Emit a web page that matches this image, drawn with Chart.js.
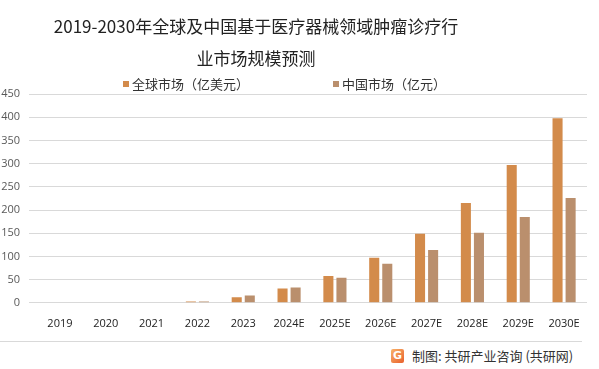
<!DOCTYPE html>
<html>
<head>
<meta charset="utf-8">
<script src="https://cdn.jsdelivr.net/npm/chart.js@4.4.1/dist/chart.umd.min.js"></script>
<style>
  * { box-sizing: border-box; }
  body { margin: 0; background: #ffffff; font-family: "Noto Sans CJK SC", sans-serif; }
  .wrap { position: relative; width: 599px; height: 369px; }
  .chart-box { position: absolute; left: 0; top: 0; width: 599px; height: 336px; }
  .title { position: absolute; left: 0; top: 10px; width: 512px; text-align: center; font-size: 17px; line-height: 32px; color: #222; }
  .legend { position: absolute; top: 74px; left: 123px; font-size: 13px; color: #333; display: flex; gap: 84px; }
  .legend span { display: flex; align-items: center; }
  .legend i { display: inline-block; width: 6px; height: 6px; margin-right: 3px; }
  .rule { position: absolute; left: 0; top: 341px; width: 582px; height: 1px; background: #d9d9d9; }
  .credit { position: absolute; left: 391px; top: 346px; font-size: 13px; color: #333; display: flex; align-items: center; gap: 8px; }
  .logo { width: 13px; height: 14px; border-radius: 2px; background: linear-gradient(135deg, #f9b26a, #e8602c); color: #fff; font: bold 11px "DejaVu Sans", sans-serif; text-align: center; line-height: 14px; }
</style>
</head>
<body>
<div class="wrap">
  <div class="chart-box"><canvas id="chart"></canvas></div>
  <div class="title" id="title"></div>
  <div class="legend" id="legend"></div>
  <div class="rule"></div>
  <div class="credit"><span class="logo">G</span><span>制图: 共研产业咨询 (共研网)</span></div>
</div>
<script>
const years = ["2019", "2020", "2021", "2022", "2023", "2024E", "2025E", "2026E", "2027E", "2028E", "2029E", "2030E"];
const globalMarket = [0, 0, 0, 3, 12, 31, 58, 97, 149, 215, 297, 398];
const chinaMarket = [0, 0, 0, 3, 16, 33, 54, 84, 114, 151, 185, 226];
const seriesNames = ["全球市场（亿美元）", "中国市场（亿元）"];
const seriesColors = ["#d38b4b", "#ba8f6d"];
const titleLines = ["2019-2030年全球及中国基于医疗器械领域肿瘤诊疗行", "业市场规模预测"];

document.getElementById("title").innerHTML = titleLines.join("<br>");

const chart = new Chart(document.getElementById("chart"), {
  type: "bar",
  data: {
    labels: years,
    datasets: [
      { label: seriesNames[0], data: globalMarket, backgroundColor: seriesColors[0], barPercentage: 0.77, categoryPercentage: 0.57 },
      { label: seriesNames[1], data: chinaMarket, backgroundColor: seriesColors[1], barPercentage: 0.77, categoryPercentage: 0.57 }
    ]
  },
  options: {
    responsive: true,
    maintainAspectRatio: false,
    animation: false,
    layout: { padding: { left: 0, right: 12, top: 94, bottom: 0 } },
    plugins: {
      title: { display: false },
      legend: { display: false },
      tooltip: { enabled: false }
    },
    scales: {
      x: {
        grid: { display: false },
        border: { display: false },
        ticks: { color: "#222", font: { family: "Open Sans", size: 11 }, maxRotation: 0, padding: 6 }
      },
      y: {
        min: 0,
        max: 450,
        ticks: { stepSize: 50, color: "#595959", font: { family: "Open Sans", size: 11 }, padding: 9 },
        grid: { color: "#d9d9d9" },
        border: { display: false },
        afterFit(scale) { scale.width = 37; }
      }
    }
  }
});

// legend built from the dataset names/colours
document.getElementById("legend").innerHTML = chart.data.datasets
  .map(ds => `<span><i style="background:${ds.backgroundColor}"></i>${ds.label}</span>`)
  .join("");
</script>
</body>
</html>
